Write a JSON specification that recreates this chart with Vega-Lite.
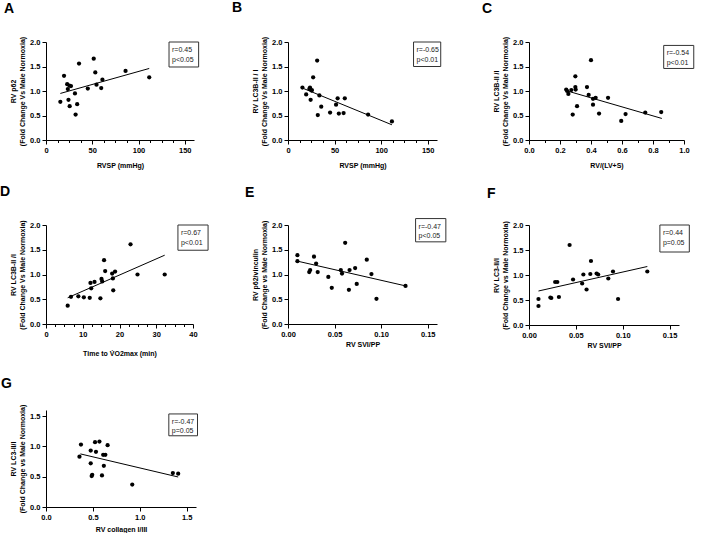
{
  "$schema": "https://vega.github.io/schema/vega-lite/v6.json",
  "background": "white",
  "padding": {"left": 0, "top": 1, "right": 0, "bottom": 0},
  "columns": 3,
  "spacing": {"row": 85, "column": 92},
  "bounds": "flush",
  "center": false,
  "config": {
    "view": {"stroke": null},
    "font": "Liberation Sans",
    "axis": {
      "grid": false, "domainColor": "black", "domainWidth": 1, "tickColor": "black", "tickSize": 4, "tickWidth": 1,
      "labelColor": "black", "labelFont": "Liberation Sans", "labelFontSize": 7.5, "labelFontWeight": "bold", "labelFlush": false, "labelOverlap": false, "labelPadding": 2,
      "titleColor": "black", "titleFont": "Liberation Sans", "titleFontSize": 7, "titleFontWeight": "bold", "titleLineHeight": 9
    },
    "title": {"font": "Liberation Sans", "fontSize": 14, "fontWeight": "bold", "color": "black", "anchor": "start", "frame": "group", "baseline": "alphabetic"}
  },
  "concat": [
    {
      "width": 148, "height": 98,
      "title": {"text": "A", "dx": -42, "offset": 20},
      "resolve": {"axis": {"x": "independent"}},
      "layer": [
        {"data": {"values": [{"x":15.5,"y":0.78},{"x":19.5,"y":1.31},{"x":22.9,"y":1.14},{"x":23.6,"y":1.04},{"x":24.3,"y":0.82},{"x":25.3,"y":1.11},{"x":25.6,"y":0.69},{"x":27,"y":1.10},{"x":31.3,"y":0.95},{"x":32,"y":0.52},{"x":33.7,"y":0.73},{"x":35.7,"y":1.56},{"x":45.2,"y":1.05},{"x":51.6,"y":1.66},{"x":53.3,"y":1.38},{"x":54.6,"y":1.13},{"x":59.7,"y":1.06},{"x":61,"y":1.23},{"x":86,"y":1.41},{"x":111.6,"y":1.28}]},
         "mark": {"type": "circle", "size": 18, "color": "black", "opacity": 1},
         "encoding": {
           "x": {"field": "x", "type": "quantitative", "scale": {"domain": [0, 150]}, "axis": {"values": [0, 50, 100, 150], "labelOverlap": false, "title": "RVSP (mmHg)", "titlePadding": 8}},
           "y": {"field": "y", "type": "quantitative", "scale": {"domain": [0, 2]}, "axis": {"values": [0, 0.5, 1, 1.5, 2], "tickCount": 5, "labelOverlap": false, "format": ".1f", "title": ["RV p62", "(Fold Change Vs Male Normoxia)"]}}
         }},
        {"data": {"values": [{"x":15.5,"y":0.95},{"x":111.6,"y":1.46}]},
         "mark": {"type": "line", "color": "black", "strokeWidth": 1},
         "encoding": {"x": {"field": "x", "type": "quantitative", "axis": {"orient": "bottom", "values": [12.5, 25, 37.5, 62.5, 75, 87.5, 112.5, 125, 137.5], "labels": false, "domain": false, "tickSize": 2.5, "title": null}},
                      "y": {"field": "y", "type": "quantitative", "axis": {"values": [0, 0.5, 1, 1.5, 2], "tickCount": 5, "labelOverlap": false, "format": ".1f", "title": ["RV p62", "(Fold Change Vs Male Normoxia)"]}}}},
        {"data": {"values": [{"x":133,"x2":165,"y":2.0,"y2":1.49,"t":"r=0.45\np<0.05"}]},
         "layer": [
           {"mark": {"type": "rect", "fill": "white", "stroke": "#333", "strokeWidth": 1},
            "encoding": {"x": {"field": "x", "type": "quantitative", "axis": null}, "x2": {"field": "x2"}, "y": {"field": "y", "type": "quantitative", "axis": {"values": [0, 0.5, 1, 1.5, 2], "tickCount": 5, "labelOverlap": false, "format": ".1f", "title": ["RV p62", "(Fold Change Vs Male Normoxia)"]}}, "y2": {"field": "y2"}}},
           {"mark": {"type": "text", "align": "left", "baseline": "top", "dx": 3, "dy": 4, "fontSize": 7, "lineBreak": "\n", "lineHeight": 9.5, "color": "#222"},
            "encoding": {"x": {"field": "x", "type": "quantitative", "axis": null}, "y": {"field": "y", "type": "quantitative", "axis": {"values": [0, 0.5, 1, 1.5, 2], "tickCount": 5, "labelOverlap": false, "format": ".1f", "title": ["RV p62", "(Fold Change Vs Male Normoxia)"]}}, "text": {"field": "t"}}}
         ]}
      ]
    },
    {
      "width": 149, "height": 98,
      "title": {"text": "B", "dx": -56, "offset": 20},
      "resolve": {"axis": {"x": "independent"}},
      "layer": [
        {"data": {"values": [{"x":15.5,"y":1.07},{"x":19.5,"y":0.93},{"x":22.9,"y":1.04},{"x":23.6,"y":1.07},{"x":24.3,"y":0.82},{"x":25.3,"y":1.01},{"x":25.6,"y":1.02},{"x":27,"y":1.28},{"x":31.3,"y":1.62},{"x":32,"y":0.51},{"x":33.7,"y":0.91},{"x":35.7,"y":0.68},{"x":45.2,"y":0.56},{"x":51.6,"y":0.72},{"x":53.3,"y":0.85},{"x":54.6,"y":0.54},{"x":59.7,"y":0.55},{"x":61,"y":0.85},{"x":86,"y":0.52},{"x":111.6,"y":0.38}]},
         "mark": {"type": "circle", "size": 18, "color": "black", "opacity": 1},
         "encoding": {
           "x": {"field": "x", "type": "quantitative", "scale": {"domain": [0, 150]}, "axis": {"values": [0, 50, 100, 150], "labelOverlap": false, "title": "RVSP (mmHg)", "titlePadding": 8}},
           "y": {"field": "y", "type": "quantitative", "scale": {"domain": [0, 2]}, "axis": {"values": [0, 0.5, 1, 1.5, 2], "tickCount": 5, "labelOverlap": false, "format": ".1f", "title": ["RV LC3B-II / I", "(Fold  Change Vs Male Normoxia)"]}}
         }},
        {"data": {"values": [{"x":15.5,"y":1.06},{"x":111.6,"y":0.31}]},
         "mark": {"type": "line", "color": "black", "strokeWidth": 1},
         "encoding": {"x": {"field": "x", "type": "quantitative", "axis": {"orient": "bottom", "values": [12.5, 25, 37.5, 62.5, 75, 87.5, 112.5, 125, 137.5], "labels": false, "domain": false, "tickSize": 2.5, "title": null}},
                      "y": {"field": "y", "type": "quantitative", "axis": {"values": [0, 0.5, 1, 1.5, 2], "tickCount": 5, "labelOverlap": false, "format": ".1f", "title": ["RV LC3B-II / I", "(Fold  Change Vs Male Normoxia)"]}}}},
        {"data": {"values": [{"x":134.8,"x2":164,"y":2.0,"y2":1.5,"t":"r=-0.65\np<0.01"}]},
         "layer": [
           {"mark": {"type": "rect", "fill": "white", "stroke": "#333", "strokeWidth": 1},
            "encoding": {"x": {"field": "x", "type": "quantitative", "axis": null}, "x2": {"field": "x2"}, "y": {"field": "y", "type": "quantitative", "axis": {"values": [0, 0.5, 1, 1.5, 2], "tickCount": 5, "labelOverlap": false, "format": ".1f", "title": ["RV LC3B-II / I", "(Fold  Change Vs Male Normoxia)"]}}, "y2": {"field": "y2"}}},
           {"mark": {"type": "text", "align": "left", "baseline": "top", "dx": 3, "dy": 4, "fontSize": 7, "lineBreak": "\n", "lineHeight": 9.5, "color": "#222"},
            "encoding": {"x": {"field": "x", "type": "quantitative", "axis": null}, "y": {"field": "y", "type": "quantitative", "axis": {"values": [0, 0.5, 1, 1.5, 2], "tickCount": 5, "labelOverlap": false, "format": ".1f", "title": ["RV LC3B-II / I", "(Fold  Change Vs Male Normoxia)"]}}, "text": {"field": "t"}}}
         ]}
      ]
    },
    {
      "width": 155, "height": 98,
      "title": {"text": "C", "dx": -47, "offset": 20},
      "resolve": {"axis": {"x": "independent"}},
      "layer": [
        {"data": {"values": [{"x":0.240,"y":1.03},{"x":0.246,"y":1.0},{"x":0.254,"y":0.94},{"x":0.273,"y":1.02},{"x":0.282,"y":0.52},{"x":0.299,"y":1.30},{"x":0.299,"y":1.08},{"x":0.301,"y":1.03},{"x":0.310,"y":0.69},{"x":0.374,"y":1.08},{"x":0.385,"y":0.92},{"x":0.400,"y":1.63},{"x":0.413,"y":0.84},{"x":0.413,"y":0.72},{"x":0.430,"y":0.86},{"x":0.452,"y":0.54},{"x":0.510,"y":0.86},{"x":0.595,"y":0.39},{"x":0.623,"y":0.53},{"x":0.750,"y":0.56},{"x":0.853,"y":0.57}]},
         "mark": {"type": "circle", "size": 18, "color": "black", "opacity": 1},
         "encoding": {
           "x": {"field": "x", "type": "quantitative", "scale": {"domain": [0, 1]}, "axis": {"values": [0, 0.2, 0.4, 0.6, 0.8, 1.0], "labelOverlap": false, "format": ".1f", "title": "RV/(LV+S)", "titlePadding": 8}},
           "y": {"field": "y", "type": "quantitative", "scale": {"domain": [0, 2]}, "axis": {"values": [0, 0.5, 1, 1.5, 2], "tickCount": 5, "labelOverlap": false, "format": ".1f", "title": ["RV LC3B-II /I", "(Fold Change Vs Male Normoxia)"]}}
         }},
        {"data": {"values": [{"x":0.248,"y":1.0},{"x":0.857,"y":0.44}]},
         "mark": {"type": "line", "color": "black", "strokeWidth": 1},
         "encoding": {"x": {"field": "x", "type": "quantitative", "axis": {"orient": "bottom", "values": [0.1, 0.3, 0.5, 0.7, 0.9], "labels": false, "domain": false, "tickSize": 2.5, "title": null}},
                      "y": {"field": "y", "type": "quantitative", "axis": {"values": [0, 0.5, 1, 1.5, 2], "tickCount": 5, "labelOverlap": false, "format": ".1f", "title": ["RV LC3B-II /I", "(Fold Change Vs Male Normoxia)"]}}}},
        {"data": {"values": [{"x":0.869,"x2":1.063,"y":1.93,"y2":1.46,"t":"r=-0.54\np<0.01"}]},
         "layer": [
           {"mark": {"type": "rect", "fill": "white", "stroke": "#333", "strokeWidth": 1},
            "encoding": {"x": {"field": "x", "type": "quantitative", "axis": null}, "x2": {"field": "x2"}, "y": {"field": "y", "type": "quantitative", "axis": {"values": [0, 0.5, 1, 1.5, 2], "tickCount": 5, "labelOverlap": false, "format": ".1f", "title": ["RV LC3B-II /I", "(Fold Change Vs Male Normoxia)"]}}, "y2": {"field": "y2"}}},
           {"mark": {"type": "text", "align": "left", "baseline": "top", "dx": 3, "dy": 4, "fontSize": 7, "lineBreak": "\n", "lineHeight": 9.5, "color": "#222"},
            "encoding": {"x": {"field": "x", "type": "quantitative", "axis": null}, "y": {"field": "y", "type": "quantitative", "axis": {"values": [0, 0.5, 1, 1.5, 2], "tickCount": 5, "labelOverlap": false, "format": ".1f", "title": ["RV LC3B-II /I", "(Fold Change Vs Male Normoxia)"]}}, "text": {"field": "t"}}}
         ]}
      ]
    },
    {
      "width": 147, "height": 99,
      "title": {"text": "D", "dx": -46, "offset": 20},
      "resolve": {"axis": {"x": "independent"}},
      "layer": [
        {"data": {"values": [{"x":5.9,"y":0.37},{"x":6.8,"y":0.55},{"x":8.8,"y":0.56},{"x":10.3,"y":0.54},{"x":11.9,"y":0.53},{"x":12.1,"y":0.83},{"x":12.3,"y":0.72},{"x":13.2,"y":0.85},{"x":14.8,"y":0.52},{"x":15.1,"y":0.91},{"x":15.3,"y":0.86},{"x":15.8,"y":1.29},{"x":16.1,"y":1.07},{"x":18.0,"y":1.02},{"x":18.2,"y":0.92},{"x":18.3,"y":0.68},{"x":18.8,"y":1.06},{"x":23.0,"y":1.61},{"x":24.9,"y":1.0},{"x":32.3,"y":1.0}]},
         "mark": {"type": "circle", "size": 18, "color": "black", "opacity": 1},
         "encoding": {
           "x": {"field": "x", "type": "quantitative", "scale": {"domain": [0, 40]}, "axis": {"values": [0, 10, 20, 30, 40], "labelOverlap": false, "title": "Time to V̇O2max (min)", "titlePadding": 12}},
           "y": {"field": "y", "type": "quantitative", "scale": {"domain": [0, 2]}, "axis": {"values": [0, 0.5, 1, 1.5, 2], "tickCount": 5, "labelOverlap": false, "format": ".1f", "title": ["RV LC3B-II /I", "(Fold  Change Vs Male Normoxia)"]}}
         }},
        {"data": {"values": [{"x":5.9,"y":0.53},{"x":32.3,"y":1.39}]},
         "mark": {"type": "line", "color": "black", "strokeWidth": 1},
         "encoding": {"x": {"field": "x", "type": "quantitative", "axis": {"orient": "bottom", "values": [2.5, 5, 7.5, 12.5, 15, 17.5, 22.5, 25, 27.5, 32.5, 35, 37.5], "labels": false, "domain": false, "tickSize": 2.5, "title": null}},
                      "y": {"field": "y", "type": "quantitative", "axis": {"values": [0, 0.5, 1, 1.5, 2], "tickCount": 5, "labelOverlap": false, "format": ".1f", "title": ["RV LC3B-II /I", "(Fold  Change Vs Male Normoxia)"]}}}},
        {"data": {"values": [{"x":35.9,"x2":44.1,"y":2.0,"y2":1.49,"t":"r=0.67\np<0.01"}]},
         "layer": [
           {"mark": {"type": "rect", "fill": "white", "stroke": "#333", "strokeWidth": 1},
            "encoding": {"x": {"field": "x", "type": "quantitative", "axis": null}, "x2": {"field": "x2"}, "y": {"field": "y", "type": "quantitative", "axis": {"values": [0, 0.5, 1, 1.5, 2], "tickCount": 5, "labelOverlap": false, "format": ".1f", "title": ["RV LC3B-II /I", "(Fold  Change Vs Male Normoxia)"]}}, "y2": {"field": "y2"}}},
           {"mark": {"type": "text", "align": "left", "baseline": "top", "dx": 3, "dy": 4, "fontSize": 7, "lineBreak": "\n", "lineHeight": 9.5, "color": "#222"},
            "encoding": {"x": {"field": "x", "type": "quantitative", "axis": null}, "y": {"field": "y", "type": "quantitative", "axis": {"values": [0, 0.5, 1, 1.5, 2], "tickCount": 5, "labelOverlap": false, "format": ".1f", "title": ["RV LC3B-II /I", "(Fold  Change Vs Male Normoxia)"]}}, "text": {"field": "t"}}}
         ]}
      ]
    },
    {
      "width": 149, "height": 99,
      "title": {"text": "E", "dx": -43, "offset": 18},
      "layer": [
        {"data": {"values": [{"x":0.0101,"y":1.39},{"x":0.0101,"y":1.27},{"x":0.0228,"y":1.05},{"x":0.0238,"y":1.09},{"x":0.0279,"y":1.36},{"x":0.0302,"y":1.22},{"x":0.0319,"y":1.05},{"x":0.0433,"y":0.95},{"x":0.047,"y":0.73},{"x":0.0567,"y":1.09},{"x":0.058,"y":1.02},{"x":0.0614,"y":1.64},{"x":0.0654,"y":0.69},{"x":0.0661,"y":1.09},{"x":0.0721,"y":1.13},{"x":0.0738,"y":0.81},{"x":0.0846,"y":1.30},{"x":0.0896,"y":1.01},{"x":0.095,"y":0.51},{"x":0.1262,"y":0.77}]},
         "mark": {"type": "circle", "size": 18, "color": "black", "opacity": 1},
         "encoding": {
           "x": {"field": "x", "type": "quantitative", "scale": {"domain": [0, 0.15]}, "axis": {"values": [0, 0.05, 0.1, 0.15], "labelOverlap": false, "format": ".2f", "title": "RV SVI/PP", "titlePadding": 3}},
           "y": {"field": "y", "type": "quantitative", "scale": {"domain": [0, 2]}, "axis": {"values": [0, 0.5, 1, 1.5, 2], "tickCount": 5, "labelOverlap": false, "format": ".1f", "title": ["RV p62/vinculin", "(Fold Change vs Male Normoxia)"]}}
         }},
        {"data": {"values": [{"x":0.0101,"y":1.27},{"x":0.1262,"y":0.77}]},
         "mark": {"type": "line", "color": "black", "strokeWidth": 1},
         "encoding": {"x": {"field": "x", "type": "quantitative", "axis": {"values": [0, 0.05, 0.1, 0.15], "labelOverlap": false, "format": ".2f", "title": "RV SVI/PP", "titlePadding": 3}},
                      "y": {"field": "y", "type": "quantitative", "axis": {"values": [0, 0.5, 1, 1.5, 2], "tickCount": 5, "labelOverlap": false, "format": ".1f", "title": ["RV p62/vinculin", "(Fold Change vs Male Normoxia)"]}}}},
        {"data": {"values": [{"x":0.137,"x2":0.1695,"y":2.13,"y2":1.66,"t":"r=-0.47\np<0.05"}]},
         "layer": [
           {"mark": {"type": "rect", "fill": "white", "stroke": "#333", "strokeWidth": 1},
            "encoding": {"x": {"field": "x", "type": "quantitative", "axis": {"values": [0, 0.05, 0.1, 0.15], "labelOverlap": false, "format": ".2f", "title": "RV SVI/PP", "titlePadding": 3}}, "x2": {"field": "x2"}, "y": {"field": "y", "type": "quantitative", "axis": {"values": [0, 0.5, 1, 1.5, 2], "tickCount": 5, "labelOverlap": false, "format": ".1f", "title": ["RV p62/vinculin", "(Fold Change vs Male Normoxia)"]}}, "y2": {"field": "y2"}}},
           {"mark": {"type": "text", "align": "left", "baseline": "top", "dx": 3, "dy": 4, "fontSize": 7, "lineBreak": "\n", "lineHeight": 9.5, "color": "#222"},
            "encoding": {"x": {"field": "x", "type": "quantitative", "axis": {"values": [0, 0.05, 0.1, 0.15], "labelOverlap": false, "format": ".2f", "title": "RV SVI/PP", "titlePadding": 3}}, "y": {"field": "y", "type": "quantitative", "axis": {"values": [0, 0.5, 1, 1.5, 2], "tickCount": 5, "labelOverlap": false, "format": ".1f", "title": ["RV p62/vinculin", "(Fold Change vs Male Normoxia)"]}}, "text": {"field": "t"}}}
         ]}
      ]
    },
    {
      "width": 150, "height": 100,
      "title": {"text": "F", "dx": -42, "offset": 20},
      "layer": [
        {"data": {"values": [{"x":0.0101,"y":0.52},{"x":0.0101,"y":0.38},{"x":0.0228,"y":0.55},{"x":0.0238,"y":0.54},{"x":0.0279,"y":0.86},{"x":0.0302,"y":0.86},{"x":0.0319,"y":0.56},{"x":0.0433,"y":1.60},{"x":0.047,"y":0.91},{"x":0.0567,"y":0.83},{"x":0.058,"y":1.01},{"x":0.0614,"y":0.71},{"x":0.0654,"y":1.02},{"x":0.0661,"y":1.28},{"x":0.0721,"y":1.03},{"x":0.0738,"y":1.01},{"x":0.0846,"y":0.93},{"x":0.0896,"y":1.07},{"x":0.095,"y":0.52},{"x":0.1262,"y":1.07}]},
         "mark": {"type": "circle", "size": 18, "color": "black", "opacity": 1},
         "encoding": {
           "x": {"field": "x", "type": "quantitative", "scale": {"domain": [0, 0.15]}, "axis": {"values": [0, 0.05, 0.1, 0.15], "labelOverlap": false, "format": ".2f", "title": "RV SVI/PP", "titlePadding": 3}},
           "y": {"field": "y", "type": "quantitative", "scale": {"domain": [0, 2]}, "axis": {"values": [0, 0.5, 1, 1.5, 2], "tickCount": 5, "labelOverlap": false, "format": ".1f", "title": ["RV LC3-II/I", "(Fold Change vs Male Normoxia)"]}}
         }},
        {"data": {"values": [{"x":0.0101,"y":0.68},{"x":0.1262,"y":1.17}]},
         "mark": {"type": "line", "color": "black", "strokeWidth": 1},
         "encoding": {"x": {"field": "x", "type": "quantitative", "axis": {"values": [0, 0.05, 0.1, 0.15], "labelOverlap": false, "format": ".2f", "title": "RV SVI/PP", "titlePadding": 3}},
                      "y": {"field": "y", "type": "quantitative", "axis": {"values": [0, 0.5, 1, 1.5, 2], "tickCount": 5, "labelOverlap": false, "format": ".1f", "title": ["RV LC3-II/I", "(Fold Change vs Male Normoxia)"]}}}},
        {"data": {"values": [{"x":0.1396,"x2":0.171,"y":2.0,"y2":1.46,"t":"r=0.44\np=0.05"}]},
         "layer": [
           {"mark": {"type": "rect", "fill": "white", "stroke": "#333", "strokeWidth": 1},
            "encoding": {"x": {"field": "x", "type": "quantitative", "axis": {"values": [0, 0.05, 0.1, 0.15], "labelOverlap": false, "format": ".2f", "title": "RV SVI/PP", "titlePadding": 3}}, "x2": {"field": "x2"}, "y": {"field": "y", "type": "quantitative", "axis": {"values": [0, 0.5, 1, 1.5, 2], "tickCount": 5, "labelOverlap": false, "format": ".1f", "title": ["RV LC3-II/I", "(Fold Change vs Male Normoxia)"]}}, "y2": {"field": "y2"}}},
           {"mark": {"type": "text", "align": "left", "baseline": "top", "dx": 3, "dy": 4, "fontSize": 7, "lineBreak": "\n", "lineHeight": 9.5, "color": "#222"},
            "encoding": {"x": {"field": "x", "type": "quantitative", "axis": {"values": [0, 0.05, 0.1, 0.15], "labelOverlap": false, "format": ".2f", "title": "RV SVI/PP", "titlePadding": 3}}, "y": {"field": "y", "type": "quantitative", "axis": {"values": [0, 0.5, 1, 1.5, 2], "tickCount": 5, "labelOverlap": false, "format": ".1f", "title": ["RV LC3-II/I", "(Fold Change vs Male Normoxia)"]}}, "text": {"field": "t"}}}
         ]}
      ]
    },
    {
      "width": 150, "height": 97,
      "title": {"text": "G", "dx": -45, "offset": 13},
      "layer": [
        {"data": {"values": [{"x":0.357,"y":0.83},{"x":0.373,"y":1.03},{"x":0.477,"y":0.93},{"x":0.477,"y":0.72},{"x":0.487,"y":0.51},{"x":0.493,"y":0.53},{"x":0.523,"y":1.07},{"x":0.533,"y":0.91},{"x":0.57,"y":1.08},{"x":0.597,"y":0.52},{"x":0.61,"y":0.86},{"x":0.617,"y":0.68},{"x":0.633,"y":0.86},{"x":0.657,"y":1.02},{"x":0.92,"y":0.37},{"x":1.353,"y":0.56},{"x":1.41,"y":0.55}]},
         "mark": {"type": "circle", "size": 18, "color": "black", "opacity": 1},
         "encoding": {
           "x": {"field": "x", "type": "quantitative", "scale": {"domain": [0, 1.5]}, "axis": {"values": [0, 0.5, 1, 1.5], "labelOverlap": false, "format": ".1f", "title": "RV collagen I/III", "titlePadding": 5}},
           "y": {"field": "y", "type": "quantitative", "scale": {"domain": [0, 1.5]}, "axis": {"values": [0, 0.5, 1, 1.5], "tickCount": 4, "labelOverlap": false, "format": ".1f", "title": ["RV LC3-II/I", "(Fold Change vs Male Normoxia)"]}}
         }},
        {"data": {"values": [{"x":0.367,"y":0.876},{"x":1.41,"y":0.495}]},
         "mark": {"type": "line", "color": "black", "strokeWidth": 1},
         "encoding": {"x": {"field": "x", "type": "quantitative", "axis": {"values": [0, 0.5, 1, 1.5], "labelOverlap": false, "format": ".1f", "title": "RV collagen I/III", "titlePadding": 5}},
                      "y": {"field": "y", "type": "quantitative", "axis": {"values": [0, 0.5, 1, 1.5], "tickCount": 4, "labelOverlap": false, "format": ".1f", "title": ["RV LC3-II/I", "(Fold Change vs Male Normoxia)"]}}}},
        {"data": {"values": [{"x":1.31,"x2":1.616,"y":1.535,"y2":1.175,"t":"r=-0.47\np=0.05"}]},
         "layer": [
           {"mark": {"type": "rect", "fill": "white", "stroke": "#333", "strokeWidth": 1},
            "encoding": {"x": {"field": "x", "type": "quantitative", "axis": {"values": [0, 0.5, 1, 1.5], "labelOverlap": false, "format": ".1f", "title": "RV collagen I/III", "titlePadding": 5}}, "x2": {"field": "x2"}, "y": {"field": "y", "type": "quantitative", "axis": {"values": [0, 0.5, 1, 1.5], "tickCount": 4, "labelOverlap": false, "format": ".1f", "title": ["RV LC3-II/I", "(Fold Change vs Male Normoxia)"]}}, "y2": {"field": "y2"}}},
           {"mark": {"type": "text", "align": "left", "baseline": "top", "dx": 3, "dy": 4, "fontSize": 7, "lineBreak": "\n", "lineHeight": 9.5, "color": "#222"},
            "encoding": {"x": {"field": "x", "type": "quantitative", "axis": {"values": [0, 0.5, 1, 1.5], "labelOverlap": false, "format": ".1f", "title": "RV collagen I/III", "titlePadding": 5}}, "y": {"field": "y", "type": "quantitative", "axis": {"values": [0, 0.5, 1, 1.5], "tickCount": 4, "labelOverlap": false, "format": ".1f", "title": ["RV LC3-II/I", "(Fold Change vs Male Normoxia)"]}}, "text": {"field": "t"}}}
         ]}
      ]
    }
  ]
}
